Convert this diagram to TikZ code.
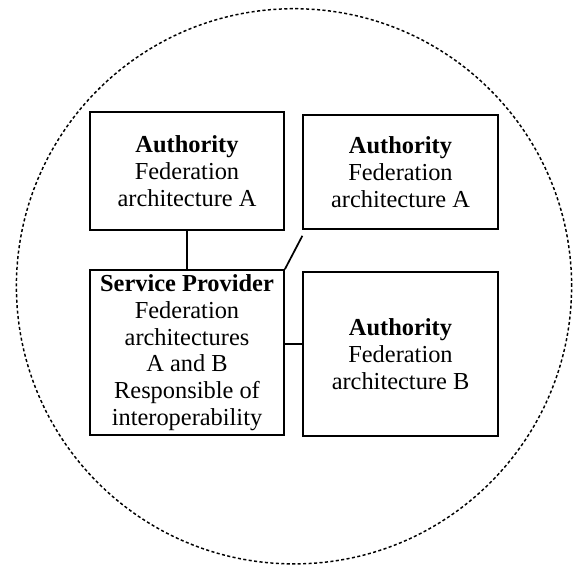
\documentclass[tikz,border=0pt]{standalone}
\usepackage{fontspec}
\setmainfont{Liberation Serif}
\begin{document}
\begin{tikzpicture}[x=0.75pt,y=-0.75pt,
  box/.style={draw=black,line width=1.5pt,rectangle,inner sep=0pt,align=center,
    font=\fontsize{18.3pt}{20pt}\selectfont},
  link/.style={draw=black,line width=1.3pt},
  ring/.style={draw=black,line width=1.1pt,dash pattern=on 2.3pt off 1.8pt}]
\useasboundingbox (0,0) rectangle (573,565);
\draw[ring] (294,286.3) circle [radius=208.2pt];
\node[box,minimum width=145.3pt,minimum height=87.8pt] (b1) at (187,171)
  {\textbf{Authority}\\Federation\\architecture A};
\node[box,minimum width=145.7pt,minimum height=86.2pt] (b2) at (400.5,172)
  {\textbf{Authority}\\Federation\\architecture A};
\node[box,minimum width=145.3pt,minimum height=123.5pt] (sp) at (187,352.6)
  {\textbf{Service Provider}\\Federation\\architectures\\A and B\\Responsible of\\interoperability};
\node[box,minimum width=145.7pt,minimum height=122.8pt] (b4) at (400.5,354)
  {\textbf{Authority}\\Federation\\architecture B};
\coordinate (dq) at ([yshift=-4pt]b2.south west);
\coordinate (hq) at ([yshift=6.4pt]sp.east);
\draw[link] (b1.south) -- (sp.north);
\draw[link] (sp.north east) -- (dq);
\draw[link] (hq) -- (hq -| b4.west);
\end{tikzpicture}
\end{document}
